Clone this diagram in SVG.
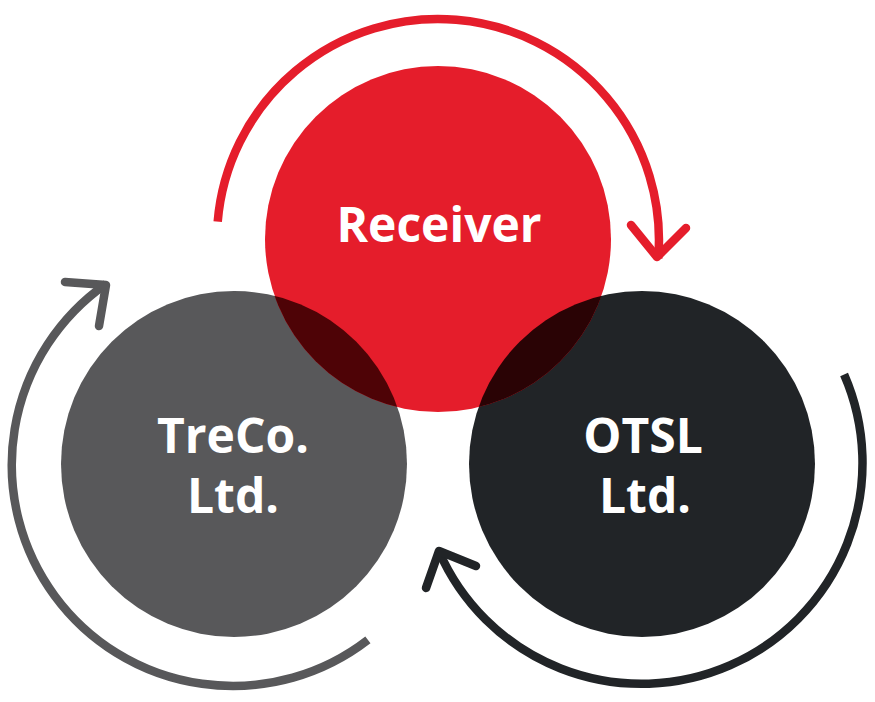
<svg xmlns="http://www.w3.org/2000/svg" width="875" height="702" viewBox="0 0 875 702">
<style>
.lbl{font-family:"Open Sans","Liberation Sans",sans-serif;font-weight:700;font-size:48px;fill:#ffffff;text-anchor:middle}
.arc{fill:none;stroke-width:8.5;stroke-linecap:butt}
.head{fill:none;stroke-width:8.5;stroke-linecap:round;stroke-linejoin:round}
</style>
<defs>
<clipPath id="clipGray"><circle cx="234" cy="464" r="173"/></clipPath>
<clipPath id="clipDark"><circle cx="642" cy="464" r="173"/></clipPath>
</defs>
<rect width="875" height="702" fill="#ffffff"/>
<g id="connectors">
<path class="arc" stroke="#e51d2b" d="M217.7,221.7 A221,221 0 1 1 658.2,258.3"/>
<polyline class="head" stroke="#e51d2b" points="631,225 657,257 686,228"/>
<path class="arc" stroke="#58585a" d="M367.9,639.8 A221,221 0 1 1 106,283.9"/>
<polyline class="head" stroke="#58585a" points="65,282 106,285 99,326"/>
<path class="arc" stroke="#212427" d="M844.1,374.5 A221,221 0 1 1 438.9,551.1"/>
<polyline class="head" stroke="#212427" points="476,566 439,551 426,588"/>
</g>
<g id="node-treco">
<circle cx="234" cy="464" r="173" fill="#58585a"/>
</g>
<g id="node-otsl">
<circle cx="642" cy="464" r="173" fill="#212427"/>
</g>
<g id="node-receiver">
<circle cx="438" cy="239" r="173" fill="#e51d2b"/>
<circle cx="438" cy="239" r="173" fill="#4e0306" clip-path="url(#clipGray)"/>
<circle cx="438" cy="239" r="173" fill="#2a0305" clip-path="url(#clipDark)"/>
<text class="lbl" x="439" y="242">Receiver</text>
</g>
<g id="labels">
<text class="lbl" x="233" y="453">TreCo.</text>
<text class="lbl" x="233" y="513">Ltd.</text>
<text class="lbl" x="643" y="453">OTSL</text>
<text class="lbl" x="645" y="513">Ltd.</text>
</g>
</svg>
